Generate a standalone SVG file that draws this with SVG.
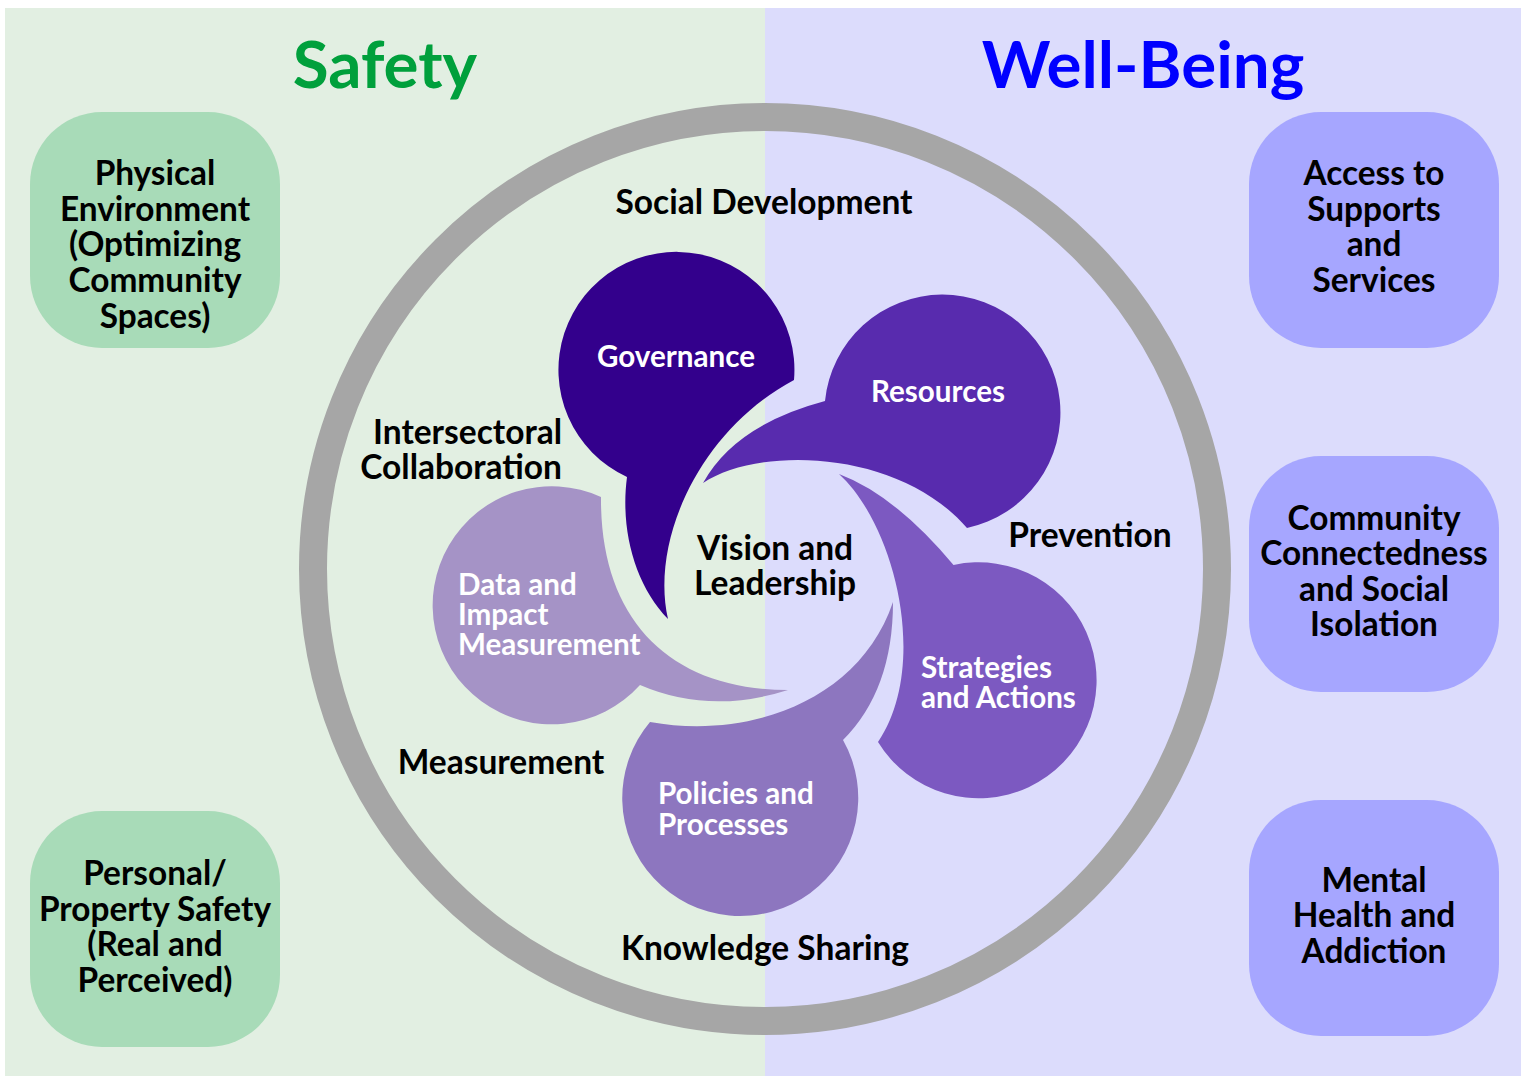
<svg xmlns="http://www.w3.org/2000/svg" width="1527" height="1076" viewBox="0 0 1527 1076">
<style>
  .t { font-family: Lato, "Open Sans", "Liberation Sans", sans-serif; font-weight: 700; text-anchor: middle; }
  .title { font-size: 65.5px; }
  .box { font-size: 33.4px; fill: #000; }
  .lab { font-size: 33.5px; fill: #000; }
  .w { font-size: 29.6px; fill: #fff; }
  .gbox { fill: #A8DBB8; }
  .pbox { fill: #A6A6FF; }
</style>
<rect x="0" y="0" width="1527" height="1076" fill="#ffffff"/>
<rect x="5" y="8" width="760" height="1068" fill="#E2EFE2"/>
<rect x="765" y="8" width="756" height="1068" fill="#DCDCFC"/>

<text class="t title" x="385" y="88" fill="#00A03C">Safety</text>
<text class="t title" x="1143" y="88" fill="#0000FF">Well-Being</text>

<g id="box-physical">
  <rect class="gbox" x="30" y="112" width="250" height="236" rx="72"/>
  <text class="t box" x="155" y="185">Physical</text>
  <text class="t box" x="155" y="221">Environment</text>
  <text class="t box" x="155" y="256">(Optimizing</text>
  <text class="t box" x="155" y="292">Community</text>
  <text class="t box" x="155" y="328">Spaces)</text>
</g>
<g id="box-personal">
  <rect class="gbox" x="30" y="811" width="250" height="236" rx="72"/>
  <text class="t box" x="155" y="885">Personal/</text>
  <text class="t box" x="155" y="921">Property Safety</text>
  <text class="t box" x="155" y="956">(Real and</text>
  <text class="t box" x="155" y="992">Perceived)</text>
</g>
<g id="box-access">
  <rect class="pbox" x="1249" y="112" width="250" height="236" rx="72"/>
  <text class="t box" x="1374" y="185">Access to</text>
  <text class="t box" x="1374" y="221">Supports</text>
  <text class="t box" x="1374" y="256">and</text>
  <text class="t box" x="1374" y="292">Services</text>
</g>
<g id="box-community">
  <rect class="pbox" x="1249" y="456" width="250" height="236" rx="72"/>
  <text class="t box" x="1374" y="530">Community</text>
  <text class="t box" x="1374" y="565">Connectedness</text>
  <text class="t box" x="1374" y="601">and Social</text>
  <text class="t box" x="1374" y="636">Isolation</text>
</g>
<g id="box-mental">
  <rect class="pbox" x="1249" y="800" width="250" height="236" rx="72"/>
  <text class="t box" x="1374" y="892">Mental</text>
  <text class="t box" x="1374" y="927">Health and</text>
  <text class="t box" x="1374" y="963">Addiction</text>
</g>

<g id="ring">
  <circle cx="765" cy="569" r="452" fill="none" stroke="#A6A6A6" stroke-width="28"/>
  <text class="t lab" x="764" y="214">Social Development</text>
  <text class="t lab" x="562" y="444" style="text-anchor:end">Intersectoral</text>
  <text class="t lab" x="562" y="479" style="text-anchor:end">Collaboration</text>
  <text class="t lab" x="1090" y="547">Prevention</text>
  <text class="t lab" x="501" y="774">Measurement</text>
  <text class="t lab" x="765" y="960">Knowledge Sharing</text>
</g>

<g id="petal-governance">
  <path fill="#33008C" d="M794,380 A118,118 0 1 0 627,477 C620,530 635,585 668,619 C650,540 700,430 794,380 Z"/>
  <text class="t w" x="676" y="367">Governance</text>
</g>
<g id="petal-resources">
  <path fill="#582BAE" d="M825,401 Q735,425 703,483 C760,445 900,450 967,528 A118,118 0 1 0 825,401 Z"/>
  <text class="t w" x="938" y="402">Resources</text>
</g>
<g id="petal-strategies">
  <path fill="#7C59C1" d="M953.5,565 Q895,495 839,474 C895,525 930,665 878,742 A118,118 0 1 0 953.5,565 Z"/>
  <text class="t w" x="921" y="678" style="text-anchor:start">Strategies</text>
  <text class="t w" x="921" y="708" style="text-anchor:start">and Actions</text>
</g>
<g id="petal-policies">
  <path fill="#8D76BF" d="M843,740 Q893,690 893,602 C860,700 750,740 650,722 A118,118 0 1 0 843,740 Z"/>
  <text class="t w" x="658" y="804" style="text-anchor:start">Policies and</text>
  <text class="t w" x="658" y="835" style="text-anchor:start">Processes</text>
</g>
<g id="petal-data">
  <path fill="#A593C6" d="M601,497 C600,620 670,690 788,690 Q710,715 640,685 A119,119 0 1 1 601,497 Z"/>
  <text class="t w" x="458" y="595" style="text-anchor:start">Data and</text>
  <text class="t w" x="458" y="625" style="text-anchor:start">Impact</text>
  <text class="t w" x="458" y="655" style="text-anchor:start">Measurement</text>
</g>

<g id="center">
  <text class="t lab" x="775" y="560">Vision and</text>
  <text class="t lab" x="775" y="595">Leadership</text>
</g>
</svg>
